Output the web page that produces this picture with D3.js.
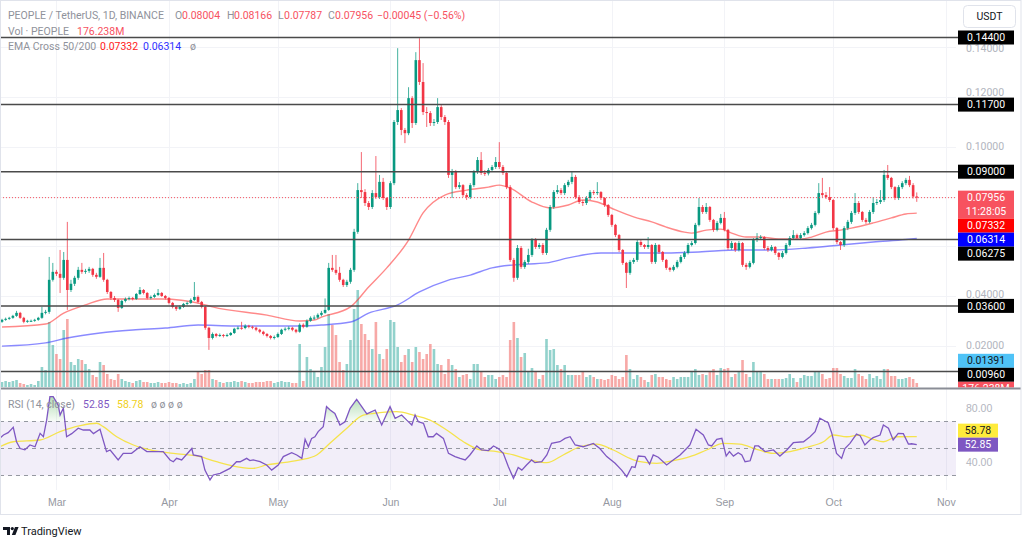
<!DOCTYPE html>
<html><head><meta charset="utf-8">
<script src="https://cdn.jsdelivr.net/npm/d3@7/dist/d3.min.js"></script>
<style>body{margin:0;background:#fff;}svg{display:block;font-family:Roboto,"Noto Sans",sans-serif;}</style>
</head><body><svg id="c" width="1024" height="539"></svg>
<script>
// ---------------- DATA ----------------
const monthLabels = ["Mar","Apr","May","Jun","Jul","Aug","Sep","Oct","Nov"];
const monthDays = [15,46,76,107,137,168,199,229,260]; // day index from 2024-02-15
const closes = [.0304,.0308,.0312,.0320,.0332,.0312,.0296,.0300,.0300,.0304,
.0312,.0332,.0336,.0465,.0497,.0489,.0473,.0545,.0424,.0449,
.0473,.0505,.0497,.0501,.0509,.0485,.0477,.0513,.0465,.0416,
.0392,.0384,.0352,.0380,.0388,.0392,.0388,.0408,.0424,.0412,
.0392,.0396,.0404,.0412,.0400,.0392,.0372,.0356,.0348,.0356,
.0368,.0372,.0384,.0396,.0376,.0356,.0272,.0231,.0247,.0239,
.0243,.0239,.0243,.0251,.0268,.0272,.0271,.0280,.0276,.0272,
.0264,.0256,.0247,.0239,.0231,.0235,.0247,.0264,.0268,.0272,
.0264,.0256,.0284,.0276,.0300,.0312,.0313,.0324,.0332,.0344,
.0513,.0505,.0493,.0465,.0444,.0457,.0505,.0658,.0826,.0818,
.0774,.0758,.0814,.0798,.0859,.0794,.0758,.0854,.1100,.1148,
.1068,.1055,.1196,.1096,.1349,.1261,.1140,.1136,.1096,.1100,
.1160,.1120,.1100,.0887,.0899,.0838,.0846,.0806,.0798,.0846,
.0899,.0947,.0895,.0893,.0907,.0919,.0939,.0919,.0895,.0838,
.0545,.0473,.0593,.0517,.0537,.0565,.0625,.0597,.0605,.0573,
.0666,.0758,.0818,.0826,.0814,.0846,.0859,.0879,.0798,.0778,
.0774,.0794,.0818,.0814,.0818,.0794,.0766,.0726,.0686,.0645,
.0585,.0533,.0493,.0537,.0545,.0617,.0605,.0597,.0605,.0537,
.0605,.0577,.0545,.0513,.0505,.0517,.0537,.0557,.0573,.0605,
.0613,.0686,.0758,.0738,.0758,.0706,.0666,.0694,.0714,.0666,
.0593,.0613,.0585,.0613,.0525,.0517,.0533,.0625,.0633,.0637,
.0593,.0585,.0597,.0573,.0557,.0573,.0605,.0633,.0645,.0633,
.0645,.0653,.0673,.0686,.0734,.0814,.0806,.0798,.0786,.0673,
.0617,.0605,.0673,.0698,.0734,.0774,.0738,.0706,.0698,.0738,
.0774,.0778,.0786,.0887,.0875,.0838,.0794,.0838,.0854,.0867,
.0846,.0800,.07956];
const opens = [.0296,.0304,.0308,.0312,.0320,.0332,.0312,.0296,.0300,.0300,
.0304,.0312,.0332,.0336,.0465,.0497,.0489,.0473,.0545,.0424,
.0449,.0473,.0505,.0497,.0501,.0509,.0485,.0477,.0513,.0465,
.0416,.0392,.0384,.0352,.0380,.0388,.0392,.0388,.0408,.0424,
.0412,.0392,.0396,.0404,.0412,.0400,.0392,.0372,.0356,.0348,
.0356,.0368,.0372,.0384,.0396,.0376,.0356,.0272,.0231,.0247,
.0239,.0243,.0239,.0243,.0251,.0268,.0272,.0271,.0280,.0276,
.0272,.0264,.0256,.0247,.0239,.0231,.0235,.0247,.0264,.0268,
.0272,.0264,.0256,.0284,.0276,.0300,.0312,.0313,.0324,.0332,
.0344,.0513,.0505,.0493,.0465,.0444,.0457,.0505,.0658,.0826,
.0818,.0774,.0758,.0814,.0798,.0859,.0794,.0758,.0854,.1100,
.1148,.1068,.1055,.1196,.1096,.1349,.1261,.1140,.1136,.1096,
.1100,.1160,.1120,.1100,.0887,.0899,.0838,.0846,.0806,.0798,
.0846,.0899,.0947,.0895,.0893,.0907,.0919,.0939,.0919,.0895,
.0838,.0545,.0473,.0593,.0517,.0537,.0565,.0625,.0597,.0605,
.0573,.0666,.0758,.0818,.0826,.0814,.0846,.0859,.0879,.0798,
.0778,.0774,.0794,.0818,.0814,.0818,.0794,.0766,.0726,.0686,
.0645,.0585,.0533,.0493,.0537,.0545,.0617,.0605,.0597,.0605,
.0537,.0605,.0577,.0545,.0513,.0505,.0517,.0537,.0557,.0573,
.0605,.0613,.0686,.0758,.0738,.0758,.0706,.0666,.0694,.0714,
.0666,.0593,.0613,.0585,.0613,.0525,.0517,.0533,.0625,.0633,
.0637,.0593,.0585,.0597,.0573,.0557,.0573,.0605,.0633,.0645,
.0633,.0645,.0653,.0673,.0686,.0734,.0814,.0806,.0798,.0786,
.0673,.0617,.0605,.0673,.0698,.0734,.0774,.0738,.0706,.0698,
.0738,.0774,.0778,.0786,.0887,.0875,.0838,.0794,.0838,.0854,
.0867,.0846,.08004];
const highs = [.0308,.0313,.0316,.0324,.0340,.0336,.0316,.0304,.0305,.0308,
.0316,.0356,.0344,.0557,.0533,.0505,.0585,.0577,.0698,.0465,
.0481,.0517,.0533,.0509,.0517,.0513,.0493,.0553,.0573,.0469,
.0420,.0400,.0388,.0384,.0394,.0398,.0396,.0412,.0436,.0428,
.0416,.0402,.0410,.0428,.0416,.0404,.0396,.0376,.0360,.0362,
.0372,.0378,.0390,.0456,.0402,.0380,.0360,.0276,.0253,.0251,
.0249,.0247,.0249,.0255,.0272,.0278,.0296,.0286,.0284,.0280,
.0276,.0268,.0260,.0251,.0243,.0241,.0253,.0268,.0274,.0278,
.0276,.0268,.0290,.0290,.0306,.0318,.0322,.0330,.0340,.0390,
.0533,.0565,.0565,.0517,.0469,.0465,.0513,.0670,.0854,.0979,
.0830,.0782,.0826,.0963,.0887,.0875,.0798,.0862,.1108,.1397,
.1156,.1076,.1240,.1204,.1381,.1437,.1337,.1160,.1144,.1112,
.1196,.1168,.1128,.1108,.0911,.0907,.0858,.0850,.0814,.0854,
.0907,.0959,.0979,.0907,.0915,.0927,.0959,.1019,.0927,.0903,
.0846,.0553,.0605,.0601,.0545,.0590,.0633,.0633,.0613,.0613,
.0674,.0766,.0826,.0846,.0834,.0854,.0867,.0899,.0887,.0806,
.0786,.0802,.0826,.0826,.0858,.0822,.0798,.0770,.0730,.0690,
.0649,.0589,.0537,.0545,.0553,.0625,.0625,.0609,.0637,.0609,
.0613,.0609,.0581,.0549,.0517,.0525,.0545,.0565,.0581,.0613,
.0621,.0694,.0794,.0766,.0774,.0762,.0710,.0702,.0730,.0738,
.0670,.0621,.0617,.0621,.0617,.0533,.0541,.0633,.0653,.0645,
.0641,.0601,.0605,.0601,.0577,.0581,.0613,.0641,.0665,.0651,
.0653,.0661,.0681,.0694,.0742,.0854,.0875,.0818,.0838,.0790,
.0677,.0621,.0681,.0706,.0742,.0814,.0782,.0742,.0714,.0746,
.0798,.0790,.0826,.0907,.0927,.0879,.0842,.0846,.0862,.0875,
.0883,.0854,.08166];
const lows = [.0292,.0300,.0304,.0308,.0316,.0308,.0290,.0292,.0296,.0296,
.0300,.0308,.0326,.0328,.0458,.0480,.0412,.0465,.0344,.0416,
.0440,.0465,.0489,.0489,.0493,.0477,.0469,.0473,.0457,.0408,
.0384,.0376,.0336,.0348,.0374,.0382,.0382,.0384,.0404,.0406,
.0386,.0386,.0392,.0400,.0396,.0386,.0366,.0350,.0340,.0344,
.0352,.0362,.0368,.0380,.0370,.0350,.0264,.0183,.0225,.0233,
.0235,.0233,.0235,.0239,.0247,.0264,.0264,.0266,.0270,.0266,
.0258,.0250,.0241,.0233,.0225,.0225,.0231,.0243,.0258,.0262,
.0258,.0250,.0252,.0270,.0272,.0296,.0304,.0308,.0318,.0328,
.0340,.0497,.0485,.0457,.0436,.0436,.0449,.0497,.0650,.0794,
.0762,.0746,.0750,.0790,.0790,.0786,.0746,.0750,.0846,.1088,
.1047,.1015,.1047,.1076,.1088,.1249,.1128,.1080,.1084,.1084,
.1092,.1108,.1088,.0875,.0794,.0830,.0830,.0798,.0786,.0790,
.0838,.0891,.0887,.0883,.0885,.0899,.0911,.0911,.0887,.0830,
.0537,.0457,.0465,.0509,.0509,.0529,.0557,.0589,.0589,.0565,
.0565,.0658,.0750,.0810,.0806,.0806,.0838,.0850,.0790,.0770,
.0762,.0766,.0786,.0806,.0806,.0786,.0758,.0718,.0678,.0637,
.0577,.0525,.0432,.0485,.0529,.0537,.0597,.0589,.0589,.0529,
.0529,.0569,.0537,.0505,.0497,.0499,.0511,.0531,.0549,.0567,
.0599,.0607,.0680,.0730,.0730,.0698,.0658,.0660,.0688,.0660,
.0585,.0585,.0577,.0579,.0517,.0505,.0511,.0527,.0617,.0625,
.0585,.0577,.0579,.0565,.0545,.0551,.0567,.0599,.0627,.0625,
.0627,.0639,.0647,.0667,.0680,.0728,.0798,.0790,.0778,.0665,
.0609,.0585,.0597,.0665,.0690,.0726,.0730,.0698,.0690,.0692,
.0730,.0766,.0770,.0778,.0867,.0830,.0786,.0786,.0830,.0846,
.0838,.0792,.07787];
const volumes = [220,264,220,264,308,176,132,88,132,88,
264,880,748,2860,1848,1452,1232,2508,2992,1100,
968,1232,1188,1012,792,528,440,1100,968,572,
352,308,572,352,264,220,176,264,308,220,
220,176,176,220,176,176,220,176,176,132,
176,132,176,352,704,572,748,748,352,308,
220,176,220,220,264,220,264,220,176,176,
220,220,220,264,264,176,220,264,220,220,
176,176,1892,264,1320,792,660,440,880,1760,
3212,2728,2288,1100,748,1012,2068,3432,4268,2772,
2332,2068,1672,2860,1452,1232,1672,2948,2860,1760,
1100,1408,1672,1100,1760,1540,1232,1452,1892,1672,
1012,968,572,1232,968,792,440,528,572,352,
1012,1012,660,440,528,528,352,440,528,440,
2068,2860,2156,1320,1496,704,836,660,352,528,
2112,1628,1672,968,792,968,528,528,528,528,
660,440,528,440,352,352,308,352,528,484,
352,440,1408,792,352,528,440,308,220,528,
572,440,440,352,308,440,352,440,440,440,
660,792,528,572,528,660,792,528,836,792,
836,440,572,660,1188,572,440,1100,704,704,
572,352,352,352,352,352,396,572,396,220,
396,528,484,484,704,704,572,352,396,836,
836,572,484,396,396,792,572,484,352,572,
396,484,352,792,792,484,484,352,352,396,
440,352,176.238];
const ema50Pts = [[0,.0275],[12,.0287],[17,.0331],[23,.0364],[29,.0388],[44,.0388],[55,.0368],[58,.0356],[73,.0323],[82,.0299],[86,.0303],[88,.0315],[96,.0356],[101,.0436],[106,.0513],[112,.0625],[116,.0734],[122,.0806],[128,.0826],[134,.0838],[137,.0846],[140,.0834],[146,.0778],[151,.0754],[156,.0766],[160,.0786],[164,.0778],[169,.0746],[174,.0718],[179,.0698],[183,.0677],[188,.0657],[190,.0653],[194,.0665],[198,.0669],[201,.0653],[205,.0637],[209,.0637],[214,.0629],[220,.0629],[223,.0637],[227,.0657],[231,.0665],[234,.0673],[240,.0694],[245,.0714],[249,.0730],[252,.07332]];
const ema200Pts = [[0,.0198],[12,.0211],[18,.0231],[27,.0251],[36,.0263],[45,.0271],[54,.0283],[64,.0279],[73,.0279],[82,.0279],[88,.0283],[96,.0295],[101,.0331],[109,.0364],[115,.0416],[123,.0464],[129,.0484],[135,.0513],[141,.0525],[150,.0533],[156,.0553],[165,.0573],[174,.0573],[183,.0573],[192,.0577],[203,.0585],[212,.0585],[222,.0593],[231,.0605],[240,.0617],[249,.0627],[252,.06314]];
const rsiPts = [[-0.6,57.5],[0.4,60],[1.7,61.7],[3.1,65.7],[4,55],[5,50],[6.3,49],[7.7,52.6],[9.1,51.3],[10.5,61.2],[11.4,58.7],[12.3,71],[13.2,88.4],[14.1,88.4],[15.5,82],[16,74.8],[16.9,80],[17.8,58.7],[19.2,61],[21,65],[22.4,63.7],[24.2,63.7],[25.2,61],[27,64.2],[28.8,47.7],[29.8,48.9],[32,41.5],[33.4,46.4],[35.7,46.4],[38,51.3],[39.9,47.7],[41.7,47.7],[44.4,47.7],[46.3,41.5],[47.2,40.2],[48.1,42.7],[49.5,41.5],[52.3,50],[52.7,45.2],[55,44],[55.9,34],[57.3,26.7],[58.2,30.4],[60.1,31.6],[62.8,35.3],[64.6,40.2],[65.6,40.2],[67.4,42.7],[68.3,41],[69.2,41.5],[71.1,40.2],[72.9,37.8],[74.3,34],[76.1,37.8],[77.5,44],[79.8,46.9],[81.2,45.2],[82.6,42.7],[83.5,56.8],[84.4,51.3],[85.3,57.5],[86.2,58.7],[87.1,62.5],[88.5,66.2],[89.4,81],[90.4,78.5],[91.7,76],[93.1,67.4],[94.5,69.8],[95.9,79.8],[97.7,86.4],[99.1,81],[100.5,75.6],[102.8,78.5],[104.6,67.4],[106.9,81],[108.3,72.4],[110.1,74.8],[111.5,71],[112.9,67.4],[113.8,74.8],[114.7,69.8],[116.1,68.7],[117.4,58.7],[118.8,58.7],[119.7,61.2],[121.6,57.5],[123,46.4],[124.8,44],[126.2,42.7],[127.6,41.5],[128.9,45.2],[130.8,51.9],[132.1,48.9],[134,48.5],[135.4,51.9],[136.7,50],[138.1,46.4],[139.5,36.5],[140.9,27.9],[142.2,36],[143.2,34],[144.5,37.8],[145.9,41.5],[146.8,39.5],[148.7,40.2],[150.1,45.2],[151.4,53.8],[153.7,55],[155.1,57.5],[156.5,58.7],[157.9,52.6],[160.1,51.3],[162.9,53.8],[164.7,50],[166.6,44],[168.9,39],[170.7,34],[172.1,29.1],[173.5,36.5],[174.4,36],[175.3,44.4],[177.1,44],[178.4,38.5],[179.4,45.2],[180.8,43.5],[183.1,37.8],[184.9,41.5],[186.8,45.2],[188.6,50],[189.5,52.6],[191.2,64.2],[193.2,60],[194.6,52.6],[195.5,51.9],[196.9,56.8],[198.3,57.5],[199.5,44.4],[200.4,47.7],[201.5,44.4],[202.8,46.9],[203.8,45.2],[204.7,40.2],[206.1,40.9],[207.4,51.9],[208.4,51.9],[210.2,47.7],[212.5,48.9],[214.3,44.4],[216.2,48.9],[218,54.3],[220.8,55],[222.6,58.7],[224,62.5],[225.3,72.4],[226.7,70.4],[227.6,69.1],[228.6,61.2],[229.9,46.4],[231.3,42.7],[232.2,50],[233.6,53.8],[235.4,60.7],[236.4,59.5],[237.7,52.6],[239.1,56.3],[240,58],[241.9,60],[242.8,67.4],[244.2,65],[245.5,56.3],[246.9,61.2],[248.3,61],[249.7,53.3],[250.6,53.5],[252,52.85]];
const rsiMaPts = [[-0.6,51.3],[3.1,55],[10.5,56.3],[16,62.5],[21.5,66.9],[26.1,68.7],[27.9,66.2],[31.6,58.7],[36.2,52.6],[40.8,49],[47.2,46.4],[54.5,44],[59.1,40.2],[63.7,37],[69.2,35.3],[72.9,37.8],[77.5,39.5],[82.1,41.5],[86.7,45.2],[90.4,54],[95,65],[99.5,74.8],[104.1,76.5],[108.7,77.3],[113.3,74.8],[117.9,71],[122.5,63.7],[127.1,55],[131.7,49],[136.3,47.7],[140.9,45.2],[145.5,41.5],[150.1,39.5],[154.6,45.2],[159.2,51.3],[163.8,53.3],[168.4,48.9],[173,42.7],[175.8,40.2],[180.4,39],[184.9,41],[189.5,44],[194.1,48.9],[198.7,53.8],[203.3,53.3],[207.9,49.4],[212.5,46.4],[217.1,47.7],[221.7,50.9],[226.3,55],[229,60],[232.7,58.7],[236.4,60],[240,56.8],[242.8,55],[246.5,58.7],[252,58.78]];
const levels = [0.144,0.117,0.09,0.06275,0.036,0.0096];
const priceTicks = [0.02,0.04,0.06,0.08,0.10,0.12,0.14];
const rsiTicks = [80,40];
const extraLabel = 0.01391;

// ---------------- CHART ----------------
const W=1024,H=539,plotR=956;
const svg=d3.select("#c");
const x=d3.scaleLinear().domain([0,260]).range([2,945.8]);
const yP=d3.scaleLinear().domain([0.144,0.036]).range([37.5,305.9]);
const yV=d3.scaleLinear().domain([0,4400]).range([387,287]);
const yR=d3.scaleLinear().domain([70,30]).range([421.5,475.5]);
const UP="#089981",DN="#f23645";
const days=d3.range(closes.length);
const f5=d3.format(".5f");
const last=closes.length-1;

svg.append("rect").attr("width",W).attr("height",H).attr("fill","#fff");
const defs=svg.append("defs");
defs.append("clipPath").attr("id","mainClip").append("rect").attr("x",0).attr("y",0).attr("width",plotR).attr("height",388);
defs.append("clipPath").attr("id","rsiClip").append("rect").attr("x",0).attr("y",389).attr("width",plotR).attr("height",100);
defs.append("clipPath").attr("id","axClip").append("rect").attr("x",plotR).attr("y",0).attr("width",W-plotR).attr("height",387.5);
defs.append("clipPath").attr("id","obClip").append("rect").attr("x",0).attr("y",389).attr("width",plotR).attr("height",yR(70)-389);
const g=defs.append("linearGradient").attr("id","obGrad").attr("gradientUnits","userSpaceOnUse").attr("x1",0).attr("x2",0).attr("y1",395).attr("y2",yR(70));
g.append("stop").attr("offset",0).attr("stop-color","rgba(76,175,80,0.45)");
g.append("stop").attr("offset",1).attr("stop-color","rgba(76,175,80,0.04)");

// grid
const grid=svg.append("g").attr("stroke","#f2f3f7").attr("stroke-width",1);
grid.selectAll("line.v").data(monthDays).join("line").attr("x1",d=>Math.round(x(d))+0.5).attr("x2",d=>Math.round(x(d))+0.5).attr("y1",0).attr("y2",490);
grid.selectAll("line.h").data(priceTicks).join("line").attr("x1",0).attr("x2",plotR).attr("y1",d=>Math.round(yP(d))+0.5).attr("y2",d=>Math.round(yP(d))+0.5);

// main pane
const main=svg.append("g").attr("clip-path","url(#mainClip)");
main.selectAll("rect.vol").data(days).join("rect")
 .attr("x",i=>x(i)-1.3).attr("width",2.6)
 .attr("y",i=>yV(volumes[i])).attr("height",i=>yV(0)-yV(volumes[i]))
 .attr("fill",i=>closes[i]>=opens[i]?"rgba(38,166,154,0.5)":"rgba(239,83,80,0.5)");
const ln=d3.line().x(d=>x(d[0])).y(d=>yP(d[1])).curve(d3.curveMonotoneX);
main.append("path").attr("d",ln(ema200Pts)).attr("fill","none").attr("stroke","rgba(60,60,255,0.6)").attr("stroke-width",1.4);
main.append("path").attr("d",ln(ema50Pts)).attr("fill","none").attr("stroke","rgba(255,40,40,0.55)").attr("stroke-width",1.4);
main.selectAll("line.wick").data(days).join("line")
 .attr("x1",i=>x(i)).attr("x2",i=>x(i)).attr("y1",i=>yP(highs[i])).attr("y2",i=>yP(lows[i]))
 .attr("stroke",i=>closes[i]>=opens[i]?UP:DN).attr("stroke-width",1).attr("opacity",0.75);
main.selectAll("rect.body").data(days).join("rect")
 .attr("x",i=>x(i)-1.3).attr("width",2.6)
 .attr("y",i=>yP(Math.max(opens[i],closes[i])))
 .attr("height",i=>Math.max(1,Math.abs(yP(opens[i])-yP(closes[i]))))
 .attr("fill",i=>closes[i]>=opens[i]?UP:DN);
main.append("line").attr("x1",0).attr("x2",plotR).attr("y1",yP(closes[last])).attr("y2",yP(closes[last]))
 .attr("stroke","#f7525f").attr("stroke-width",1).attr("stroke-dasharray","1,2");
svg.append("g").selectAll("line").data(levels).join("line")
 .attr("x1",0).attr("x2",960).attr("y1",d=>yP(d)).attr("y2",d=>yP(d))
 .attr("stroke","#4a4a4a").attr("stroke-width",1.5);

// axis labels with collision
const labs=[];
levels.forEach(v=>labs.push({v,lines:[f5(v)],bg:"#000",fg:"#fff"}));
labs.push({v:closes[last],lines:[f5(closes[last]),"11:28:05"],bg:"#f7525f",fg:"#fff"});
labs.push({v:ema50Pts[ema50Pts.length-1][1],lines:[f5(ema50Pts[ema50Pts.length-1][1])],bg:"#ff0000",fg:"#fff"});
labs.push({v:ema200Pts[ema200Pts.length-1][1],lines:[f5(ema200Pts[ema200Pts.length-1][1])],bg:"#0000ff",fg:"#fff"});
labs.push({v:extraLabel,lines:[f5(extraLabel)],bg:"#4fc3f7",fg:"#131722"});
labs.forEach(l=>{l.top=yP(l.v)-7;l.h=14*l.lines.length;});
labs.push({top:yV(volumes[last])-7,h:14,lines:[d3.format(".3f")(volumes[last])+"M"],bg:"#f7525f",fg:"#fff"});
labs.sort((a,b)=>a.top-b.top);
for(let k=1;k<labs.length;k++){const p=labs[k-1];if(labs[k].top<p.top+p.h)labs[k].top=p.top+p.h;}

// price axis ticks: hidden when covered by a label box, nudged off a box edge when just touching it
const tickPos=[];
priceTicks.forEach(t=>{
  let yy=yP(t), hidden=false;
  labs.forEach(l=>{
    const b=l.top+l.h;
    if(yy>l.top+3 && yy<b-3){hidden=true;}
    else if(yy+4.5>l.top && yy<=l.top+3){yy=l.top-4.5;}
    else if(yy-4.5<b && yy>=b-3){yy=b+4.5;}
  });
  if(!hidden) tickPos.push({t,yy});
});
const pAx=svg.append("g").attr("transform","translate(966,0)")
 .call(d3.axisRight(yP).tickValues(tickPos.map(d=>d.t)).tickFormat(f5).tickSize(0).tickPadding(0));
pAx.select(".domain").remove();
pAx.selectAll(".tick").attr("transform",d=>"translate(0,"+tickPos.find(p=>p.t===d).yy+")");
pAx.selectAll("text").attr("fill","#b2b5be").attr("font-size",10.5).attr("font-family","Roboto,sans-serif");

const axG=svg.append("g").attr("clip-path","url(#axClip)");
labs.forEach(l=>{
 axG.append("rect").attr("x",958).attr("y",l.top).attr("width",56).attr("height",l.h).attr("fill",l.bg);
 l.lines.forEach((t,j)=>axG.append("text").attr("x",986).attr("y",l.top+7+14*j).attr("dy","0.35em")
  .attr("text-anchor","middle").attr("font-size",10.5).attr("fill",l.fg).text(t));
});

// USDT button
svg.append("rect").attr("x",963.5).attr("y",5.5).attr("width",52).attr("height",22).attr("rx",4).attr("fill","#fff").attr("stroke","#e0e3eb");
svg.append("text").attr("x",989.5).attr("y",16.5).attr("dy","0.35em").attr("text-anchor","middle").attr("font-size",10.5).attr("fill","#131722").text("USDT");

// separator
svg.append("line").attr("x1",0).attr("x2",1021).attr("y1",388.5).attr("y2",388.5).attr("stroke","#8a8d96").attr("stroke-width",2);

// RSI pane
const rsi=svg.append("g").attr("clip-path","url(#rsiClip)");
rsi.append("rect").attr("x",0).attr("width",958).attr("y",yR(70)).attr("height",yR(30)-yR(70)).attr("fill","rgba(126,87,194,0.1)");
rsi.selectAll("line.d").data([70,50,30]).join("line").attr("x1",0).attr("x2",958).attr("y1",d=>yR(d)).attr("y2",d=>yR(d))
 .attr("stroke","#9598a1").attr("stroke-width",1).attr("stroke-dasharray","4,4");
const rx=d=>x(d[0]);
rsi.append("path").attr("clip-path","url(#obClip)").attr("d",d3.area().x(rx).y0(yR(70)).y1(d=>yR(d[1]))(rsiPts)).attr("fill","url(#obGrad)");
rsi.append("path").attr("d",d3.line().x(rx).y(d=>yR(d[1])).curve(d3.curveMonotoneX)(rsiMaPts)).attr("fill","none").attr("stroke","#f5e34c").attr("stroke-width",1.3);
rsi.append("path").attr("d",d3.line().x(rx).y(d=>yR(d[1]))(rsiPts)).attr("fill","none").attr("stroke","#7e57c2").attr("stroke-width",1.3);
const rAx=svg.append("g").attr("transform","translate(966,0)")
 .call(d3.axisRight(yR).tickValues(rsiTicks).tickFormat(d3.format(".2f")).tickSize(0).tickPadding(0));
rAx.select(".domain").remove();
rAx.selectAll("text").attr("fill","#b2b5be").attr("font-size",10.5);
const rsiLast=rsiPts[rsiPts.length-1][1], maLast=rsiMaPts[rsiMaPts.length-1][1];
const pTop=yR(rsiLast)-7; let mTop=yR(maLast)-7; if(mTop+14>pTop && mTop<pTop+14) mTop=pTop-14;
svg.append("rect").attr("x",958).attr("y",mTop).attr("width",40).attr("height",14).attr("fill","#ffeb3b");
svg.append("text").attr("x",978).attr("y",mTop+7).attr("dy","0.35em").attr("text-anchor","middle").attr("font-size",10.5).attr("fill","#131722").text(d3.format(".2f")(maLast));
svg.append("rect").attr("x",958).attr("y",pTop).attr("width",40).attr("height",14).attr("fill","#7e57c2");
svg.append("text").attr("x",978).attr("y",pTop+7).attr("dy","0.35em").attr("text-anchor","middle").attr("font-size",10.5).attr("fill","#fff").text(d3.format(".2f")(rsiLast));

// time axis
const tAx=svg.append("g").attr("transform","translate(0,490)")
 .call(d3.axisBottom(x).tickValues(monthDays).tickFormat((d,i)=>monthLabels[i]).tickSize(0).tickPadding(9));
tAx.select(".domain").remove();
tAx.selectAll("text").attr("fill","#9598a1").attr("font-size",10.5);

// frame
svg.append("rect").attr("x",0.5).attr("y",0.5).attr("width",1020.5).attr("height",514).attr("fill","none").attr("stroke","#e0e3eb");

// legends
function txt(xp,yp,t,c,fs){svg.append("text").attr("x",xp).attr("y",yp).attr("dy","0.35em").attr("font-size",fs||10.5).attr("fill",c).text(t);}
const GR="#8f929b",RD="#f7525f";
txt(8,15,"PEOPLE / TetherUS, 1D, BINANCE",GR);
txt(175,15,"O",GR); txt(182,15,f5(opens[last]),RD);
txt(227,15,"H",GR); txt(234,15,f5(highs[last]),RD);
txt(278,15,"L",GR); txt(284,15,f5(lows[last]),RD);
txt(328,15,"C",GR); txt(335,15,f5(closes[last]),RD);
txt(377,15,"−0.00045 (−0.56%)",RD);
txt(8,31,"Vol · PEOPLE",GR); txt(77,31,d3.format(".3f")(volumes[last])+"M",RD);
txt(8,46,"EMA Cross 50/200",GR); txt(100,46,f5(ema50Pts[ema50Pts.length-1][1]),"#ff2020"); txt(143,46,f5(ema200Pts[ema200Pts.length-1][1]),"#3030ff"); txt(190,46,"ø",GR);
txt(8,404,"RSI (14, close)",GR); txt(83,404,d3.format(".2f")(rsiLast),"#7e57c2"); txt(117,404,d3.format(".2f")(maLast),"#f0d020"); txt(151,404,"ø   ø   ø   ø",GR);

// TradingView logo
const lg=svg.append("g").attr("fill","#131722");
lg.append("path").attr("d","M3,527 h7 v8 h-3 v-5 h-4 z");
lg.append("circle").attr("cx",12.3).attr("cy",528.6).attr("r",1.6);
lg.append("path").attr("d","M15,527 h3.6 l-3.2,8 h-3.6 z");
svg.append("text").attr("x",21).attr("y",531).attr("dy","0.35em").attr("font-size",11).attr("fill","#131722").text("TradingView");
</script></body></html>
